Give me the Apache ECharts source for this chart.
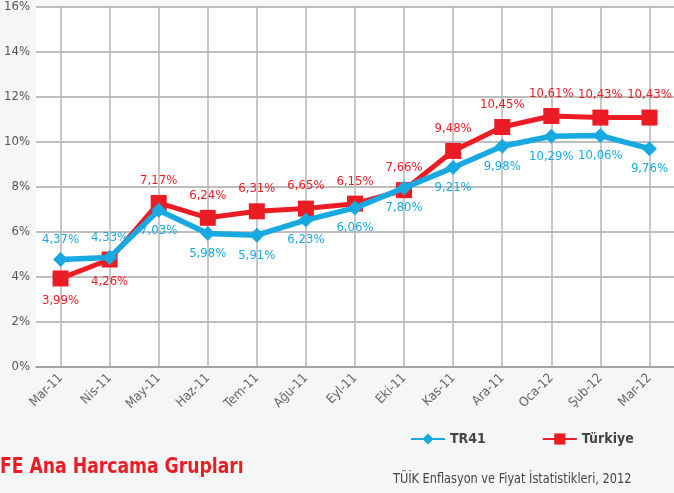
<!doctype html>
<html lang="tr">
<head>
<meta charset="UTF-8"/>
<title>TR41 - Türkiye</title>
<script src="https://cdn.jsdelivr.net/npm/echarts@6/dist/echarts.min.js"></script>
<style>
html,body{margin:0;padding:0;background:#f5f7f6;}
#chart{width:674px;height:493px;}
</style>
</head>
<body>
<div id="chart"></div>
<script>
// aylar
var months = ['Mar-11','Nis-11','May-11','Haz-11','Tem-11','Ağu-11','Eyl-11','Eki-11','Kas-11','Ara-11','Oca-12','Şub-12','Mar-12'];
// cizgilerin cizildigi degerler
var tr41 = [4.77, 4.86, 6.96, 5.93, 5.85, 6.52, 7.06, 7.95, 8.85, 9.80, 10.24, 10.27, 9.69];
var turkiye = [3.93, 4.77, 7.28, 6.62, 6.91, 7.03, 7.25, 7.85, 9.59, 10.65, 11.14, 11.07, 11.07];
// etiketlerde yazan degerler
var tr41Labels = ['4,37%','4,33%','7,03%','5,98%','5,91%','6,23%','6,06%','7,80%','9,21%','9,98%','10,29%','10,06%','9,76%'];
var turkiyeLabels = ['3,99%','4,26%','7,17%','6,24%','6,31%','6,65%','6,15%','7,66%','9,48%','10,45%','10,61%','10,43%','10,43%'];
var yTicks = [0, 2, 4, 6, 8, 10, 12, 14, 16];

var FONT = "'Liberation Sans Narrow', 'DejaVu Sans Condensed', sans-serif";
var BLUE = '#19a9e1';
var RED = '#ec1c24';

function items(vals, labels, above) {
  return vals.map(function(v, i) {
    var top = above(i);
    return {
      value: v,
      label: { position: top ? 'top' : 'bottom', formatter: labels[i] }
    };
  });
}

var myChart = echarts.init(document.getElementById('chart'), null, {renderer: 'canvas'});

var option = {
  animation: false,
  textStyle: { fontFamily: FONT },
  grid: {
    left: 36, right: 0, top: 6, bottom: 126,
    show: true, backgroundColor: '#ffffff', borderWidth: 0
  },
  legend: {
    bottom: 42, left: 405,
    itemWidth: 34, itemHeight: 14, itemGap: 56,
    textStyle: { fontFamily: FONT, fontSize: 14, fontWeight: 'bold', color: '#444' },
    data: ['TR41', 'Türkiye']
  },
  graphic: [
    {
      type: 'text', left: 0, top: 456, scaleX: 0.87,
      style: { text: 'FE Ana Harcama Grupları', fill: RED, font: "bold 22px " + FONT }
    },
    {
      type: 'text', left: 393, top: 472, scaleX: 0.9,
      style: { text: 'TÜİK Enflasyon ve Fiyat İstatistikleri, 2012', fill: '#444', font: "14px " + FONT }
    }
  ],
  xAxis: {
    type: 'category',
    data: months,
    boundaryGap: true,
    axisLine: { lineStyle: { color: '#9a9a9a', width: 1.5 } },
    axisTick: { show: false },
    axisLabel: { rotate: 45, margin: 9, color: '#666', fontSize: 13, fontFamily: FONT, interval: 0 },
    splitLine: { show: true, alignWithLabel: true, lineStyle: { color: '#b4b4b4', width: 1.5 } }
  },
  yAxis: {
    type: 'value',
    min: yTicks[0], max: yTicks[yTicks.length - 1], interval: 2,
    axisLine: { show: false },
    axisTick: { show: false },
    axisLabel: { margin: 6, color: '#555', fontSize: 13, fontFamily: FONT, formatter: '{value}%' },
    splitLine: { lineStyle: { color: '#a8a8a8', width: 1.5 } }
  },
  series: [
    {
      name: 'TR41',
      type: 'line',
      data: items(tr41, tr41Labels, function(i) { return i < 2; }),
      symbol: 'diamond', symbolSize: 15,
      lineStyle: { color: BLUE, width: 5.5 },
      itemStyle: { color: BLUE },
      label: { show: true, color: BLUE, fontSize: 13, fontFamily: FONT, distance: 6 },
      z: 3
    },
    {
      name: 'Türkiye',
      type: 'line',
      data: items(turkiye, turkiyeLabels, function(i) { return i >= 2; }),
      symbol: 'rect', symbolSize: 16,
      lineStyle: { color: RED, width: 5 },
      itemStyle: { color: RED },
      label: { show: true, color: RED, fontSize: 13, fontFamily: FONT, distance: 8 },
      z: 2
    }
  ]
};

myChart.setOption(option);
</script>
</body>
</html>
